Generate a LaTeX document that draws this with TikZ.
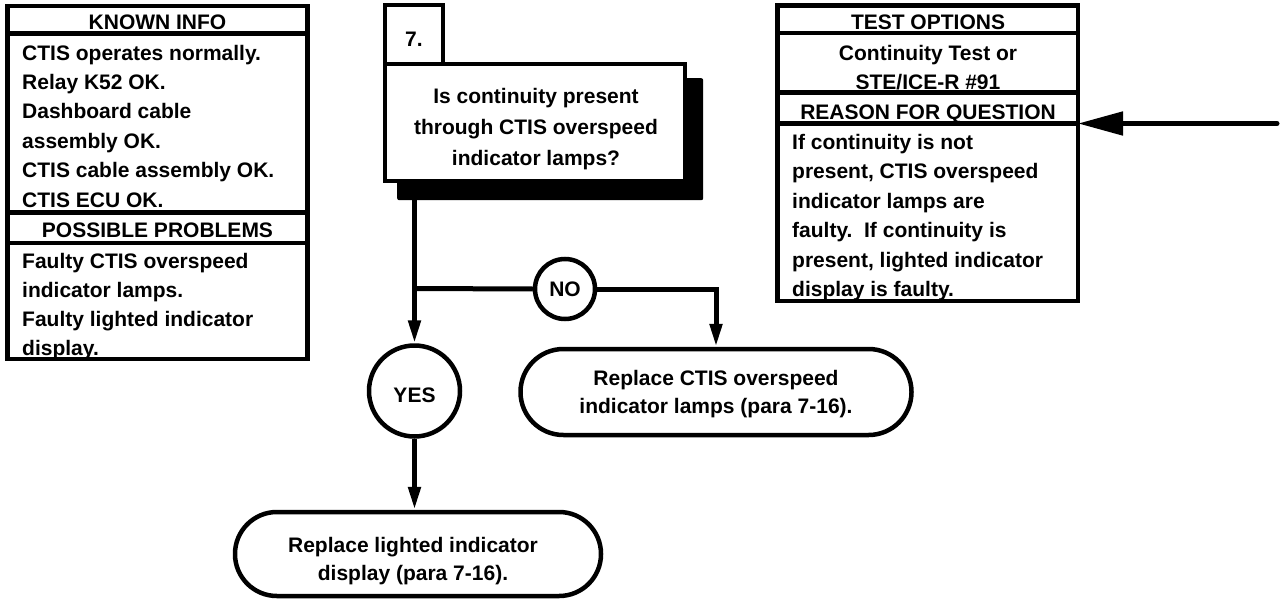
\documentclass[tikz,border=0pt]{standalone}
\usepackage{fontspec}
\setmainfont{Liberation Sans}
\usetikzlibrary{arrows.meta}
\begin{document}
\begin{tikzpicture}[x=1pt,y=-1pt,
  every node/.style={font=\bfseries\fontsize{21}{28}\selectfont, inner sep=0pt},
  sect/.style={draw, line width=4.5pt, inner sep=0pt, outer sep=0pt, anchor=north west, fill=white},
  ln/.style={anchor=base west},
  cn/.style={anchor=base},
  flow/.style={line width=5pt},
  tip/.style={-{Triangle[length=23pt,width=12pt]}},
  term/.style={draw, line width=4.5pt, rectangle, fill=white},
  ring/.style={draw, circle, line width=4.5pt, fill=white}]
\useasboundingbox (0,0) rectangle (1282,602);

% ---- KNOWN INFO panel ----
\node[sect, minimum width=300pt, minimum height=27.5pt] (k1) at (7.5,6) {};
\node[sect, minimum width=300pt, minimum height=179pt] (k2) at (7.5,33.5) {};
\node[sect, minimum width=300pt, minimum height=30.5pt] (k3) at (7.5,212.5) {};
\node[sect, minimum width=300pt, minimum height=116pt] (k4) at (7.5,243) {};
\node[cn] (k1t) at (157.5,30) {KNOWN INFO};
\foreach \t [count=\i] in {{CTIS operates normally.},{Relay K52 OK.},{Dashboard cable},{assembly OK.},{CTIS cable assembly OK.},{CTIS ECU OK.}}
  \node[ln] (kl\i) at (22,{60+29.4*(\i-1)}) {\t};
\node[cn] (k3t) at (157.5,237) {POSSIBLE PROBLEMS};
\foreach \t [count=\i] in {{Faulty CTIS overspeed},{indicator lamps.},{Faulty lighted indicator},{display.}}
  \node[ln] (pl\i) at (22,{268+29*(\i-1)}) {\t};

% ---- TEST OPTIONS panel ----
\node[sect, minimum width=300.5pt, minimum height=27.5pt] (t1) at (777.5,5.5) {};
\node[sect, minimum width=300.5pt, minimum height=59.5pt] (t2) at (777.5,33) {};
\node[sect, minimum width=300.5pt, minimum height=31pt] (t3) at (777.5,92.5) {};
\node[sect, minimum width=300.5pt, minimum height=177.5pt] (t4) at (777.5,123.5) {};
\node[cn] (t1t) at (928,30) {TEST OPTIONS};
\node[cn] (t2a) at (928,60) {Continuity Test or};
\node[cn] (t2b) at (928,89) {STE/ICE-R \#91};
\node[cn] (t3t) at (928,119) {REASON FOR QUESTION};
\foreach \t [count=\i] in {{If continuity is not},{present, CTIS overspeed},{indicator lamps are},{faulty.\ \ If continuity is},{present, lighted indicator},{display is faulty.}}
  \node[ln] (rl\i) at (792,{149+29.5*(\i-1)}) {\t};

% ---- Question 7 ----
\node[fill=black, minimum width=306pt, minimum height=122pt, anchor=north west, rounded corners=2pt] (qs) at (397,78) {};
\node[sect, minimum width=58pt, minimum height=59pt] (n7) at (385,5) {};
\node[sect, minimum width=300pt, minimum height=117pt] (q) at (385,64) {};
\node[cn] (n7t) at (414,47) {7.};
\node[cn] (q1) at (536,103) {Is continuity present};
\node[cn] (q2) at (536,134) {through CTIS overspeed};
\node[cn] (q3) at (536,165) {indicator lamps?};

% ---- decisions and results ----
\node[ring, minimum size=91pt, text height=22pt, text depth=0pt] (yes) at (414.5,391) {YES};
\node[ring, minimum size=60pt] (no) at (565,289) {NO};
\node[term, minimum width=391pt, minimum height=86pt, rounded corners=42.9pt] (r1) at (716,392) {};
\node[term, minimum width=366pt, minimum height=84pt, rounded corners=41.9pt] (r2) at (418,554) {};
\node[cn] (r1a) at (716,385) {Replace CTIS overspeed};
\node[cn] (r1b) at (716,413) {indicator lamps (para 7-16).};
\node[cn] (r2a) at (413,552) {Replace lighted indicator};
\node[cn] (r2b) at (413,580) {display (para 7-16).};

% ---- connectors ----
\coordinate (br) at (414.5,288.5);
\draw[flow, tip] (qs.south -| yes.north) -- (yes.north);
\draw[flow] (br) -- (no.west);
\draw[flow, tip] (no.east) -| (r1.north);
\draw[flow, tip] (yes.south) -- (yes.south |- r2.north);
\coordinate (tail) at (1277,123.5);
\draw[line width=5pt, line cap=round, -{Triangle[length=45pt,width=23pt]}] (tail) -- (t4.north east);
\end{tikzpicture}
\end{document}
